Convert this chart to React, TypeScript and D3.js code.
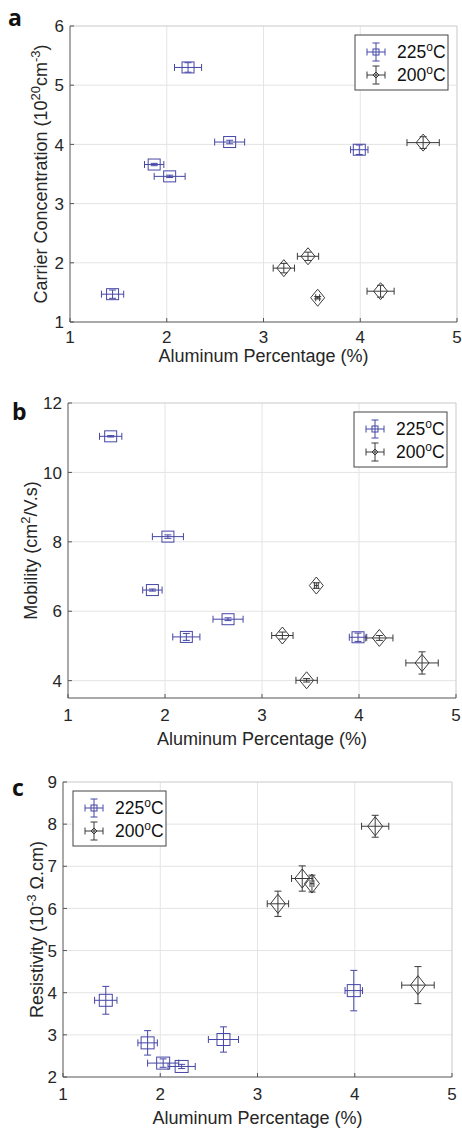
import * as d3 from "d3";

// aluminum % (shared by the three panels)
const al225 = [1.44, 1.87, 2.03, 2.22, 2.65, 3.99];
const al225Err = [0.115, 0.1, 0.16, 0.14, 0.155, 0.09];
const al200 = [3.21, 3.46, 3.56, 4.21, 4.65];
const al200Err = [0.11, 0.11, 0.02, 0.14, 0.167];

// a: carrier concentration
const carrier225 = [1.47, 3.66, 3.46, 5.3, 4.04, 3.91];
const carrier225Err = [0.07, 0.02, 0.02, 0.08, 0.03, 0.08];
const carrier200 = [1.91, 2.11, 1.41, 1.52, 4.03];
const carrier200Err = [0.08, 0.07, 0.02, 0.1, 0.1];

// b: mobility
const mob225 = [11.04, 6.61, 8.15, 5.26, 5.77, 5.25];
const mob225Err = [0.02, 0.03, 0.05, 0.1, 0.04, 0.12];
const mob200 = [5.3, 4.01, 6.74, 5.23, 4.51];
const mob200Err = [0.1, 0.05, 0.08, 0.07, 0.32];

// c: resistivity
const res225 = [3.82, 2.81, 2.33, 2.25, 2.89, 4.05];
const res225Err = [0.33, 0.29, 0.1, 0.05, 0.3, 0.48];
const res200 = [6.11, 6.71, 6.59, 7.95, 4.18];
const res200Err = [0.3, 0.3, 0.2, 0.26, 0.44];

const xTicks = [1, 2, 3, 4, 5];

const BLUE = "#4646a6";
const DARK = "#3a3a3a";
const TXT = "#262626";
const FONT = "'Liberation Sans', Arial, sans-serif";

type Pt = { x: number; y: number; ex: number; ey: number };

const zip = (xs: number[], xe: number[], ys: number[], ye: number[]): Pt[] =>
  xs.map((x, i) => ({ x, y: ys[i], ex: xe[i], ey: ye[i] }));

function ErrMark({ cx, cy, x0, x1, y0, y1, shape, color, w, h }: any) {
  const cap = 3.5;
  return (
    <g stroke={color} strokeWidth={1} fill="none">
      <line x1={x0} x2={x1} y1={cy} y2={cy} />
      <line x1={x0} x2={x0} y1={cy - cap} y2={cy + cap} />
      <line x1={x1} x2={x1} y1={cy - cap} y2={cy + cap} />
      <line x1={cx} x2={cx} y1={y0} y2={y1} />
      <line x1={cx - cap} x2={cx + cap} y1={y0} y2={y0} />
      <line x1={cx - cap} x2={cx + cap} y1={y1} y2={y1} />
      {shape === "square" ? (
        <rect x={cx - w / 2} y={cy - h / 2} width={w} height={h} />
      ) : (
        <path d={`M${cx},${cy - h / 2}L${cx + w / 2},${cy}L${cx},${cy + h / 2}L${cx - w / 2},${cy}Z`} />
      )}
    </g>
  );
}

function Panel({ letter, letterPos, left, right, top, bottom, yDomain, yTicks, s225, s200, yLabel, yLabelX, xLabelY, tickGap, legendLeft, big }: any) {
  const x = d3.scaleLinear().domain([1, 5]).range([left, right]);
  const y = d3.scaleLinear().domain(yDomain).range([bottom, top]);
  const sq = big ? 13 : 12;
  const dw = big ? 15 : 14;
  const dh = big ? 19 : 17;

  const lw = 93;
  const lh = 55;
  const lx = legendLeft ? left + 10 : right - 9 - lw;
  const ly = top + 9;
  const legend = [
    { label: "225", color: BLUE },
    { label: "200", color: DARK },
  ];

  return (
    <g fontFamily={FONT}>
      <text x={letterPos[0]} y={letterPos[1]} fontFamily="'Open Sans', sans-serif" fontWeight="bold" fontSize={23} fill="#111">
        {letter}
      </text>
      {/* grid */}
      <g stroke="#e4e4e4" strokeWidth={1}>
        {xTicks.slice(1, -1).map((t) => (
          <line key={"gx" + t} x1={x(t)} x2={x(t)} y1={top} y2={bottom} />
        ))}
        {yTicks.filter((t: number) => y(t) < bottom - 1 && y(t) > top + 1).map((t: number) => (
          <line key={"gy" + t} x1={left} x2={right} y1={y(t)} y2={y(t)} />
        ))}
      </g>
      {/* box */}
      <line x1={left} x2={right} y1={top} y2={top} stroke="#c9c9c9" />
      <line x1={right} x2={right} y1={top} y2={bottom} stroke="#c9c9c9" />
      <line x1={left} x2={left} y1={top} y2={bottom} stroke="#555" />
      <line x1={left} x2={right} y1={bottom} y2={bottom} stroke="#555" />
      {xTicks.map((t) => (
        <g key={"tx" + t}>
          <line x1={x(t)} x2={x(t)} y1={bottom} y2={bottom - 4} stroke="#555" />
          <text x={x(t)} y={bottom + tickGap} textAnchor="middle" fontSize={17} fill={TXT}>
            {t}
          </text>
        </g>
      ))}
      {yTicks.map((t: number) => (
        <g key={"ty" + t}>
          <line x1={left} x2={left + 4} y1={y(t)} y2={y(t)} stroke="#555" />
          <text x={left - 6} y={y(t)} dy="0.36em" textAnchor="end" fontSize={17} fill={TXT}>
            {t}
          </text>
        </g>
      ))}
      <text x={(left + right) / 2} y={xLabelY} textAnchor="middle" fontSize={18} fill={TXT}>
        Aluminum Percentage (%)
      </text>
      <text transform={`translate(${yLabelX},${(top + bottom) / 2}) rotate(-90)`} textAnchor="middle" fontSize={18} fill={TXT}>
        {yLabel}
      </text>
      {/* data */}
      {s225.map((d: Pt, i: number) => (
        <ErrMark key={"b" + i} cx={x(d.x)} cy={y(d.y)} x0={x(d.x - d.ex)} x1={x(d.x + d.ex)} y0={y(d.y - d.ey)} y1={y(d.y + d.ey)} shape="square" color={BLUE} w={sq} h={sq - 1} />
      ))}
      {s200.map((d: Pt, i: number) => (
        <ErrMark key={"k" + i} cx={x(d.x)} cy={y(d.y)} x0={x(d.x - d.ex)} x1={x(d.x + d.ex)} y0={y(d.y - d.ey)} y1={y(d.y + d.ey)} shape="diamond" color={DARK} w={dw} h={dh} />
      ))}
      {/* legend */}
      <rect x={lx} y={ly} width={lw} height={lh} fill="#fff" stroke="#444" strokeWidth={1} />
      {legend.map((l, i) => {
        const cy = ly + 17 + i * 23;
        const cx = lx + 21;
        return (
          <g key={l.label}>
            <ErrMark cx={cx} cy={cy} x0={cx - 9} x1={cx + 9} y0={cy - 9} y1={cy + 9} shape={i === 0 ? "square" : "diamond"} color={l.color} w={6} h={6} />
            <text x={lx + 42} y={cy + 6} fontSize={17.5} fill="#111">
              {l.label}
              <tspan dy={-7} fontSize={12}>o</tspan>
              <tspan dy={7}>C</tspan>
            </text>
          </g>
        );
      })}
    </g>
  );
}

export default function App() {
  return (
    <svg width={462} height={1130} style={{ position: "absolute", left: 0, top: 0, background: "#fff" }}>
      <rect width={462} height={1130} fill="#fff" />
      <Panel
        letter="a"
        letterPos={[8, 26]}
        left={70}
        right={457}
        top={26}
        bottom={322}
        yDomain={[1, 6]}
        yTicks={[1, 2, 3, 4, 5, 6]}
        s225={zip(al225, al225Err, carrier225, carrier225Err)}
        s200={zip(al200, al200Err, carrier200, carrier200Err)}
        yLabelX={47}
        xLabelY={362}
        tickGap={21}
        yLabel={
          <>
            Carrier Concentration (10
            <tspan dy={-7} fontSize={13}>20</tspan>
            <tspan dy={7}>cm</tspan>
            <tspan dy={-7} fontSize={13}>-3</tspan>
            <tspan dy={7}>)</tspan>
          </>
        }
      />
      <Panel
        letter="b"
        letterPos={[12, 420]}
        left={68}
        right={456}
        top={403}
        bottom={698}
        yDomain={[3.5, 12]}
        yTicks={[4, 6, 8, 10, 12]}
        s225={zip(al225, al225Err, mob225, mob225Err)}
        s200={zip(al200, al200Err, mob200, mob200Err)}
        yLabelX={37}
        xLabelY={745}
        tickGap={23}
        yLabel={
          <>
            Mobility (cm
            <tspan dy={-7} fontSize={13}>2</tspan>
            <tspan dy={7}>/V.s)</tspan>
          </>
        }
      />
      <Panel
        letter="c"
        letterPos={[12, 796]}
        left={63}
        right={452}
        top={782}
        bottom={1077}
        yDomain={[2, 9]}
        yTicks={[2, 3, 4, 5, 6, 7, 8, 9]}
        s225={zip(al225, al225Err, res225, res225Err)}
        s200={zip(al200, al200Err, res200, res200Err)}
        yLabelX={43}
        xLabelY={1124}
        tickGap={23}
        legendLeft
        big
        yLabel={
          <>
            Resistivity (10
            <tspan dy={-7} fontSize={13}>-3</tspan>
            <tspan dy={7}> Ω.cm)</tspan>
          </>
        }
      />
    </svg>
  );
}
